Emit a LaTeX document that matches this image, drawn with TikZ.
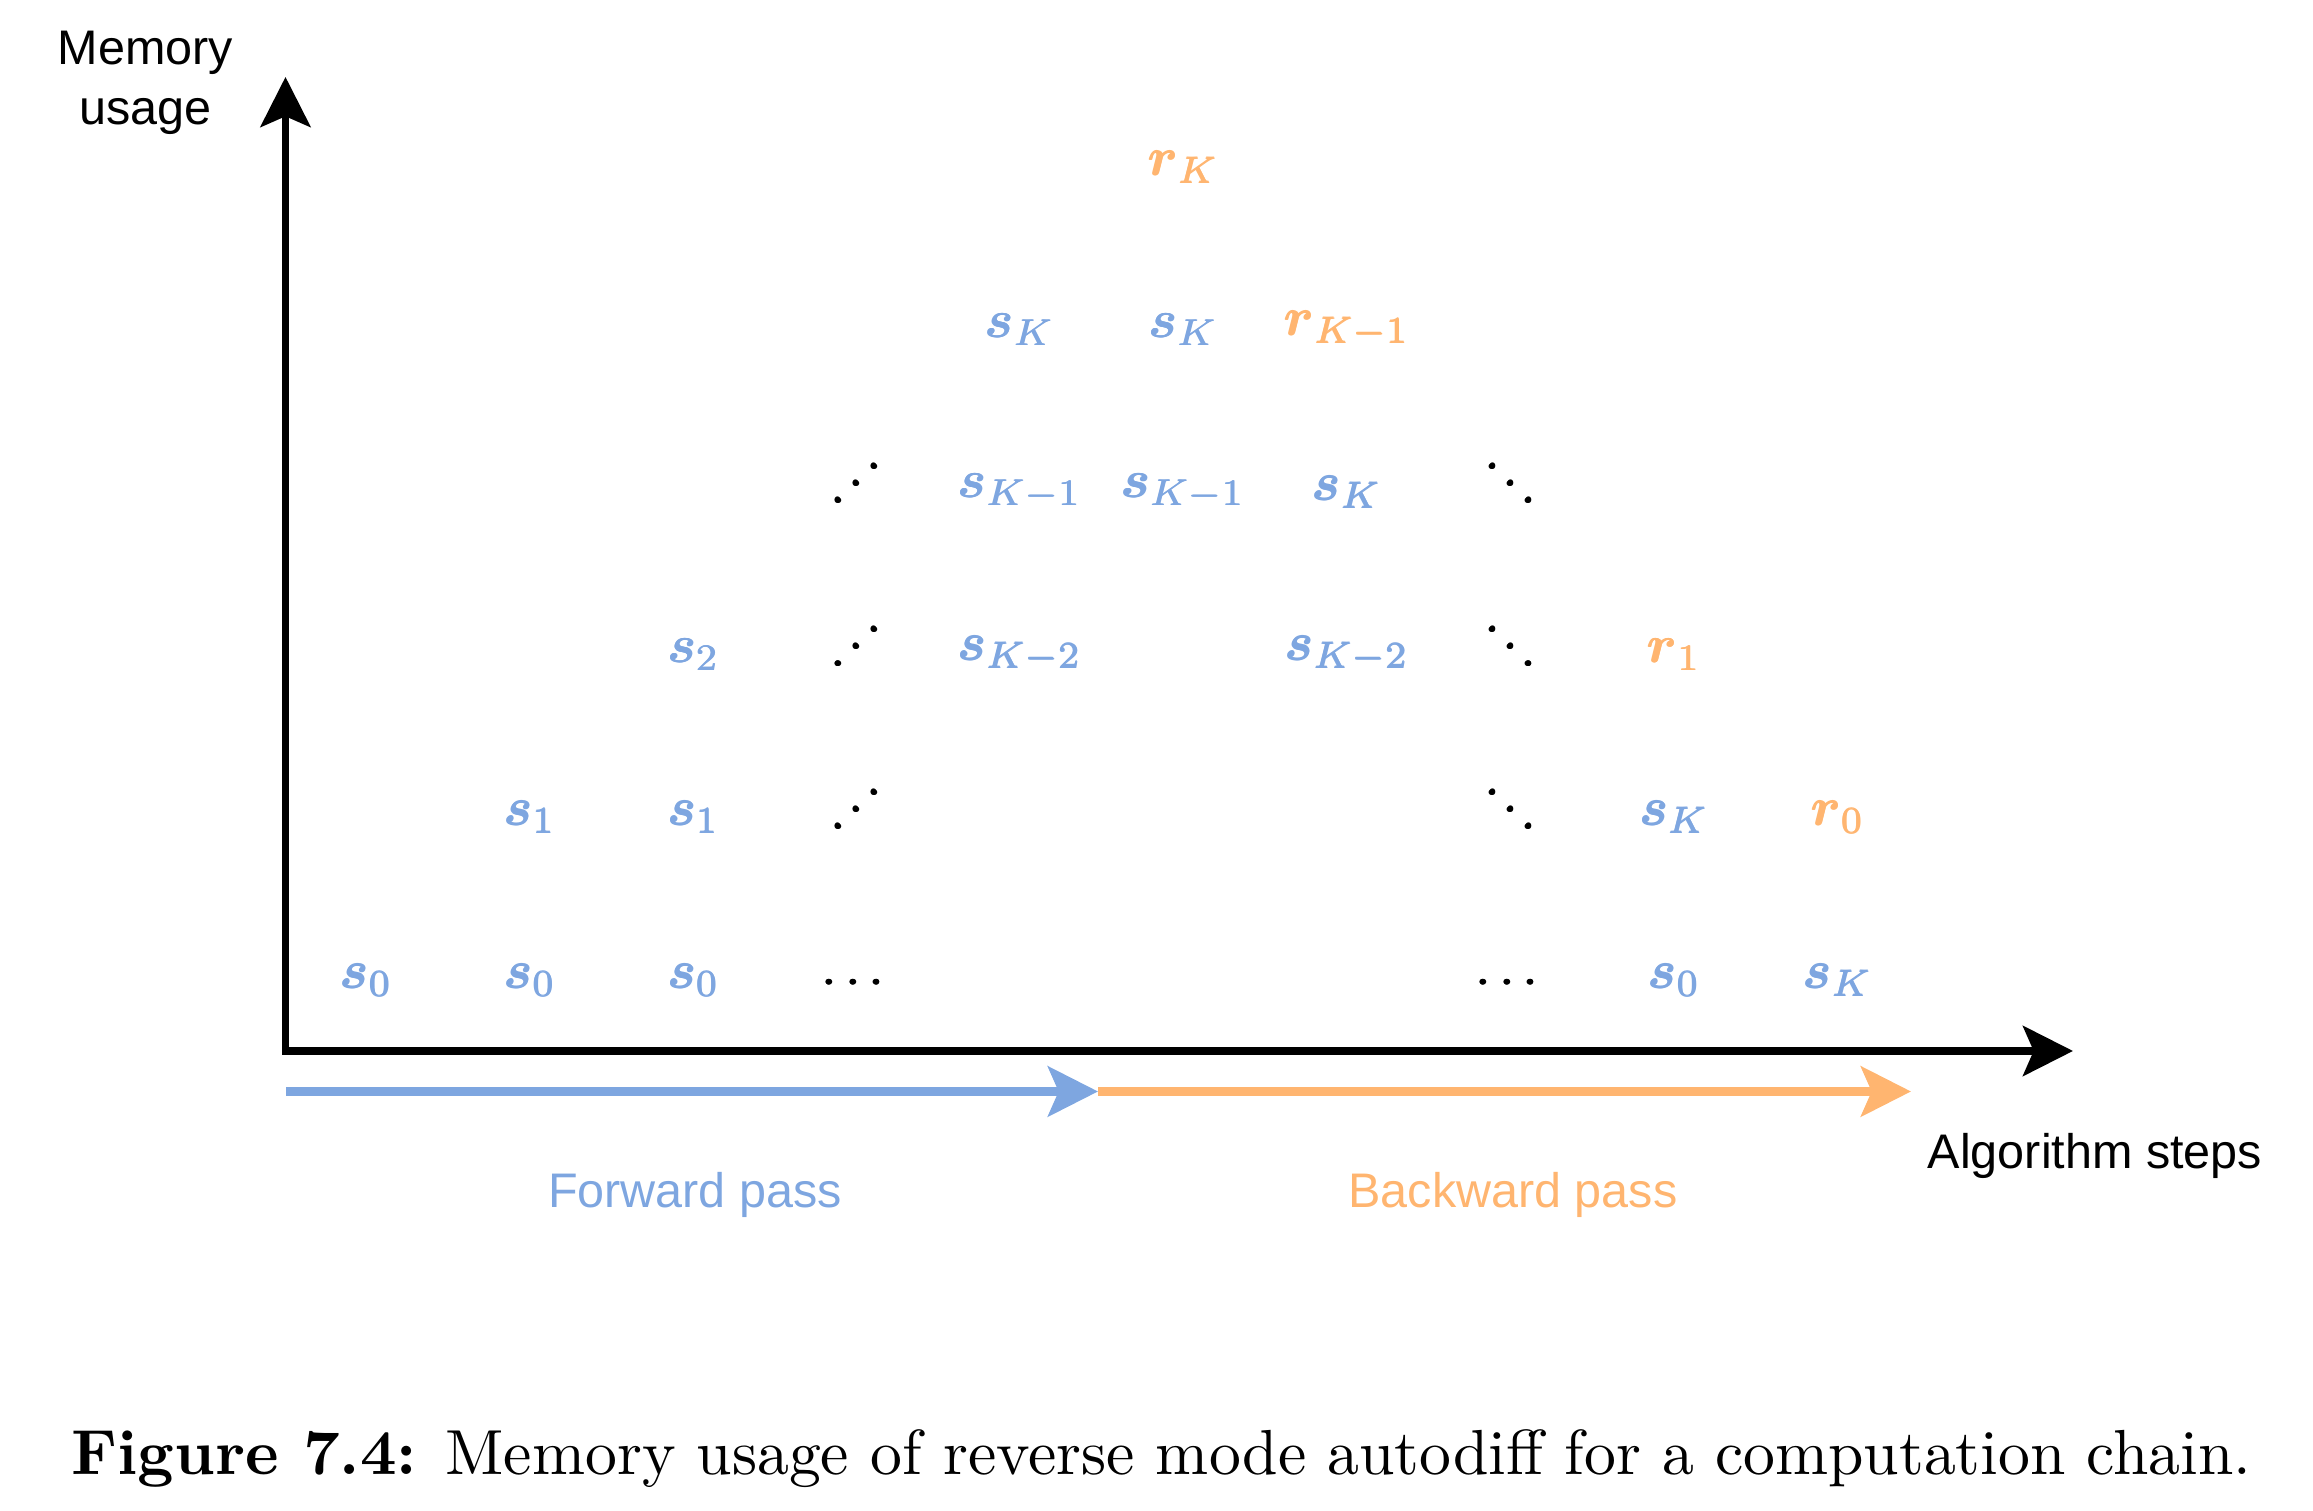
\RequirePackage{fix-cm}
\documentclass[tikz,border=0pt]{standalone}
\usepackage{amsmath}
\usepackage{fontspec}
\newfontfamily\arialf{Liberation Sans}
\usetikzlibrary{arrows.meta}
\definecolor{fblue}{HTML}{7EA6E0}
\definecolor{borange}{HTML}{FFB570}
\newcommand{\sanssz}{\arialf\fontsize{7.28}{9}\selectfont}
% slight emboldening by extra copies
\newsavebox{\cellsave}
\newcommand{\heavy}[1]{\sbox{\cellsave}{#1}%
  \rlap{\kern0.2pt\copy\cellsave}%
  \rlap{\kern0.1pt\raise0.12pt\copy\cellsave}%
  \copy\cellsave}
\newcommand{\cellbox}[1]{\scalebox{0.8}{\fontsize{10}{12}\selectfont\heavy{#1}}}
\newcommand{\mcell}[1]{\cellbox{$#1$}}
\newcommand{\upd}{\hbox{.\kern0.6pt\raise3.19pt\hbox{.}\kern0.6pt\raise6.38pt\hbox{.}}}
\newcommand{\dnd}{\hbox{\raise6.38pt\hbox{.}\kern0.6pt\raise3.19pt\hbox{.}\kern0.6pt.}}
\tikzset{
  memcell/.style={inner sep=0pt},
  sv/.style={memcell, text=fblue},
  rv/.style={memcell, text=borange},
  dt/.style={memcell, text=black},
  sanslab/.style={inner sep=0pt, font=\sanssz},
  axisline/.style={line width=1.1pt, draw=black, arrows={Stealth[length=7.5pt, width=7.5pt, inset=1.6pt]-Stealth[length=7.5pt, width=7.5pt, inset=1.6pt]}},
  passline/.style={line width=1.25pt, -{Stealth[length=7.5pt, width=7.5pt, inset=1.6pt]}}
}
\begin{document}
\begin{tikzpicture}[x=0.15pt, y=-0.15pt]
\useasboundingbox (0,0) rectangle (2313,1511);

% axes
\coordinate (ytip) at (285.5,77);
\coordinate (orig) at (285.5,1051);
\coordinate (xtip) at (2073,1051);
\draw[axisline] (ytip) -- (orig) -- (xtip);

% passes
\coordinate (fs) at (286,1091.5);
\coordinate (fe) at (1098,1091.5);
\coordinate (be) at (1911,1091.5);
\draw[passline, draw=fblue, fill=fblue] (fs) -- (fe);
\draw[passline, draw=borange, fill=borange] (fe) -- (be);

% labels
\node[sanslab, anchor=north, align=center] (mem) at (145.5,30) {Memory\\usage};
\node[sanslab, anchor=base] (alg) at (2095,1169) {Algorithm steps};
\node[sanslab, text=fblue, anchor=base] (fw) at (695,1208) {Forward pass};
\node[sanslab, text=borange, anchor=base] (bw) at (1513,1208) {Backward pass};

% row 0
\node[sv] (r0c0) at (366,980) {\mcell{\boldsymbol{s}_0}};
\node[sv] (r0c1) at (529.6,980) {\mcell{\boldsymbol{s}_0}};
\node[sv] (r0c2) at (693.2,980) {\mcell{\boldsymbol{s}_0}};
\node[dt, anchor=base] (r0c3) at (857,996) {\mcell{\cdots}};
\node[dt, anchor=base] (r0c7) at (1511,996) {\mcell{\cdots}};
\node[sv] (r0c8) at (1673.8,980) {\mcell{\boldsymbol{s}_0}};
\node[sv] (r0c9) at (1837.4,980) {\mcell{\boldsymbol{s}_K}};
% row 1
\node[sv] (r1c1) at (529.6,817) {\mcell{\boldsymbol{s}_1}};
\node[sv] (r1c2) at (693.2,817) {\mcell{\boldsymbol{s}_1}};
\node[dt] (r1c3) at (855.8,809) {\cellbox{\upd}};
\node[dt] (r1c7) at (1510.2,809) {\cellbox{\dnd}};
\node[sv] (r1c8) at (1673.8,817) {\mcell{\boldsymbol{s}_K}};
\node[rv] (r1c9) at (1837.4,817) {\mcell{\boldsymbol{r}_0}};
% row 2
\node[sv] (r2c2) at (693.2,654.5) {\mcell{\boldsymbol{s}_2}};
\node[dt] (r2c3) at (855.8,646.5) {\cellbox{\upd}};
\node[sv] (r2c4) at (1019.4,654.5) {\mcell{\boldsymbol{s}_{K-2}}};
\node[sv] (r2c6) at (1346.6,654.5) {\mcell{\boldsymbol{s}_{K-2}}};
\node[dt] (r2c7) at (1510.2,646.5) {\cellbox{\dnd}};
\node[rv] (r2c8) at (1673.8,654.5) {\mcell{\boldsymbol{r}_1}};
% row 3
\node[dt] (r3c3) at (855.8,483.5) {\cellbox{\upd}};
\node[sv] (r3c4) at (1019.4,492) {\mcell{\boldsymbol{s}_{K-1}}};
\node[sv] (r3c5) at (1183,492) {\mcell{\boldsymbol{s}_{K-1}}};
\node[sv] (r3c6) at (1346.6,492) {\mcell{\boldsymbol{s}_K}};
\node[dt] (r3c7) at (1510.2,483.5) {\cellbox{\dnd}};
% row 4
\node[sv] (r4c4) at (1019.4,329.5) {\mcell{\boldsymbol{s}_K}};
\node[sv] (r4c5) at (1183,329.5) {\mcell{\boldsymbol{s}_K}};
\node[rv] (r4c6) at (1346.6,329.5) {\mcell{\boldsymbol{r}_{K-1}}};
% row 5
\node[rv] (r5c5) at (1183,167) {\mcell{\boldsymbol{r}_K}};

% caption
\node[anchor=base west, inner sep=0pt] (cap) at (70,1475) {\resizebox{327pt}{!}{\textbf{Figure 7.4:} Memory usage of reverse mode autodiff for a computation chain.}};
\end{tikzpicture}
\end{document}
